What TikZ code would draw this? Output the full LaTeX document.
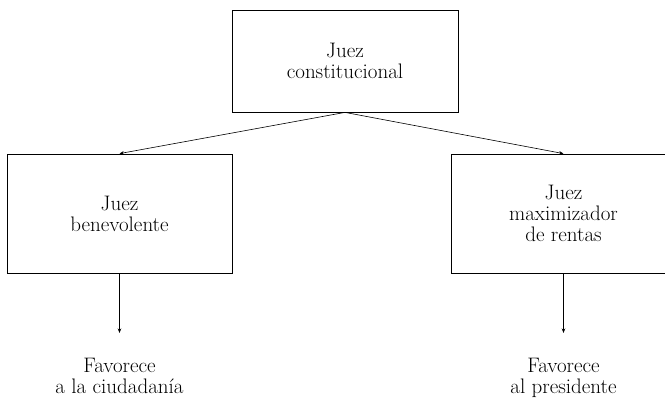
\documentclass[tikz,border=0pt]{standalone}
\usepackage{tikz}
\usetikzlibrary{positioning,calc,arrows.meta}
\begin{document}
\begin{tikzpicture}[x=1pt,y=1pt]
        \tikzstyle{judge}=[draw, line width=0.8pt, inner sep=0pt, align=center, font=\fontsize{21}{21}\selectfont]
        \tikzstyle{outcome}=[inner sep=0pt, align=center, anchor=north, font=\fontsize{21}{21}\selectfont]
        \tikzstyle{link}=[-{Stealth[length=4.5pt,width=3.5pt]}, line width=0.6pt]
        \clip (0,0) rectangle (665,402);
        % Draw judges as boxes
        \node (tc)[judge, minimum width=226pt, minimum height=102pt] at (345,341) {Juez\\constitucional};
        \node (jb)[judge, minimum width=225pt, minimum height=119pt] at (119.5,188.5) {Juez\\benevolente};
        \node (jm)[judge, minimum width=225pt, minimum height=119pt] at (563.5,188.5) {Juez\\maximizador\\de rentas};
        % ends of the vertical arrows
        \coordinate (eb) at (119.5,69);
        \coordinate (em) at (563.5,69);
        % Outcomes below
        \node (ob)[outcome] at (119.5,44) {Favorece\\a la ciudadan\'ia};
        \node (om)[outcome] at (563.5,44) {Favorece\\al presidente};
        % Draw arrows
        \draw[link] (tc.south) -- (jb.north);
        \draw[link] (tc.south) -- (jm.north);
        \draw[link] (jb.south) -- (eb);
        \draw[link] (jm.south) -- (em);
    \end{tikzpicture}
\end{document}
